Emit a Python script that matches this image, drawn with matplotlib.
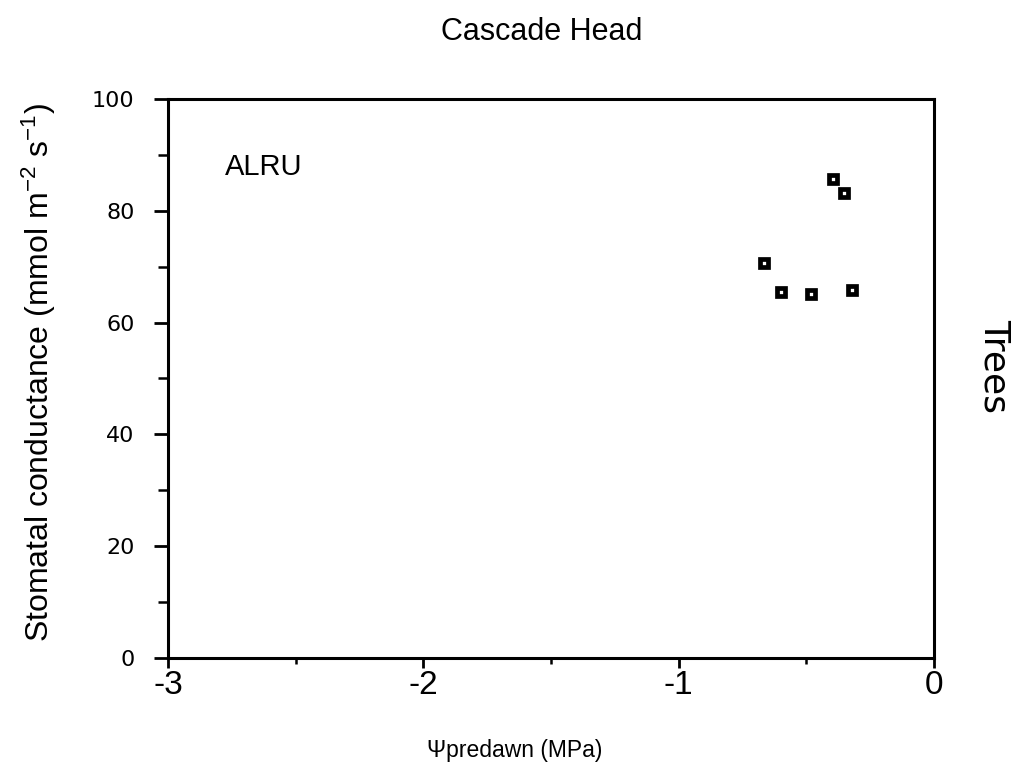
import matplotlib
matplotlib.use("Agg")
import matplotlib.pyplot as plt
from matplotlib.ticker import MultipleLocator

plt.rcParams["font.family"] = ["Liberation Sans", "DejaVu Sans"]
plt.rcParams["mathtext.default"] = "regular"

# predawn water potential (MPa) and stomatal conductance (mmol m-2 s-1), ALRU
psi_predawn = [-0.396, -0.353, -0.667, -0.600, -0.482, -0.322]
conductance = [85.7, 83.2, 70.7, 65.5, 65.1, 65.8]

x_ticks = [-3, -2, -1, 0]
x_ticklabels = ["-3", "-2", "-1", "0"]

fig = plt.figure(figsize=(10.24, 7.71), dpi=100)
ax = fig.add_axes([0.164, 0.1466, 0.748, 0.725])

ax.plot(psi_predawn, conductance, ls="none", marker="s", ms=6.3,
        mfc="white", mec="black", mew=3.4)

ax.set_xlim(-3, 0)
ax.set_ylim(0, 100)
ax.set_xticks(x_ticks, x_ticklabels)
ax.xaxis.set_minor_locator(MultipleLocator(0.5))
ax.yaxis.set_major_locator(MultipleLocator(20))
ax.yaxis.set_minor_locator(MultipleLocator(10))

for s in ax.spines.values():
    s.set_linewidth(2.2)
ax.tick_params(which="major", direction="out", width=2)
ax.tick_params(which="minor", direction="out", width=1.8)
ax.tick_params(axis="x", which="major", length=7, pad=2, labelsize=24)
ax.tick_params(axis="x", which="minor", length=4)
ax.tick_params(axis="y", which="major", length=10, pad=14)
ax.tick_params(axis="y", which="minor", length=7)
for lab in ax.get_yticklabels():
    lab.set_fontfamily("DejaVu Sans")
    lab.set_fontsize(16)

ax.set_ylabel("Stomatal conductance (mmol m$^{-2}$ s$^{-1}$)", fontsize=23)
ax.yaxis.set_label_coords(-0.143, 0.51)
ax.set_xlabel("\u03a8predawn (MPa)", fontsize=16.5)
ax.xaxis.set_label_coords(0.453, -0.145)
ax.text(0.075, 0.878, "ALRU", transform=ax.transAxes, fontsize=21,
        va="center")

fig.text(0.529, 0.958, "Cascade Head", ha="center", va="center", fontsize=22)
fig.text(0.971, 0.525, "Trees", ha="center", va="center", rotation=-90,
         fontsize=26, family="DejaVu Sans")

fig.savefig("out.png", dpi=100)
